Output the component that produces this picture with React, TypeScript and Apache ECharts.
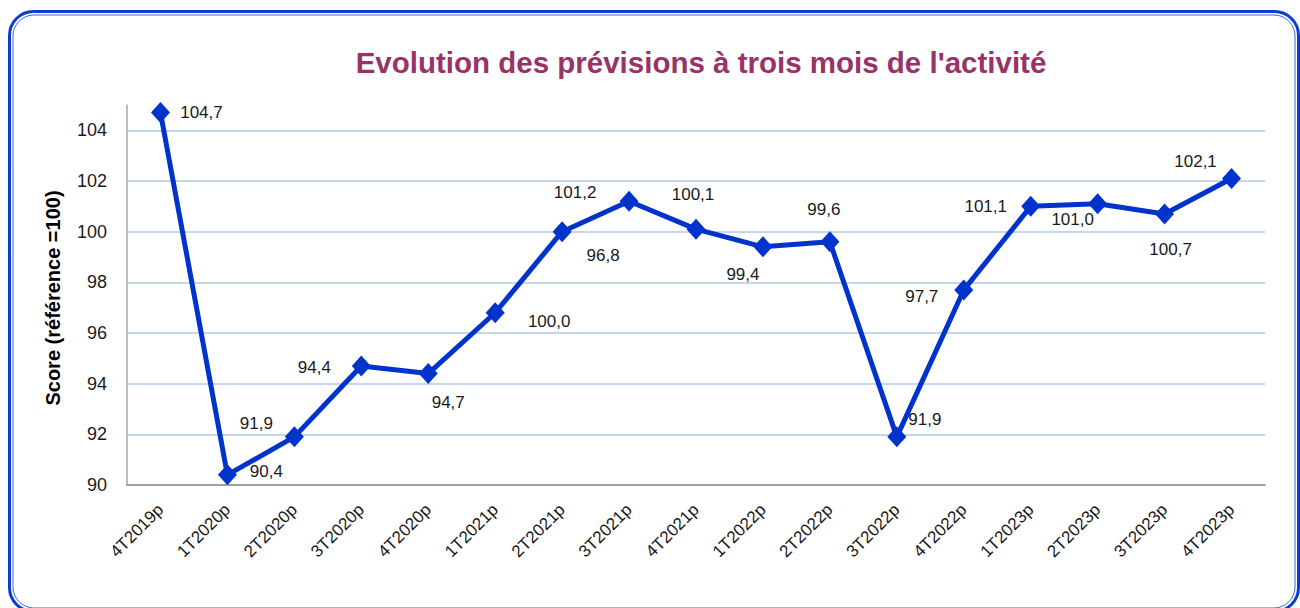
import React, { useEffect, useRef } from "react";
import * as echarts from "echarts";

const categories = [
  "4T2019p", "1T2020p", "2T2020p", "3T2020p", "4T2020p", "1T2021p", "2T2021p", "3T2021p",
  "4T2021p", "1T2022p", "2T2022p", "3T2022p", "4T2022p", "1T2023p", "2T2023p", "3T2023p", "4T2023p",
];
const values = [104.7, 90.4, 91.9, 94.7, 94.4, 96.8, 100.0, 101.2, 100.1, 99.4, 99.6, 91.9, 97.7, 101.0, 101.1, 100.7, 102.1];
// Data label texts as printed next to each point in the reference
const labelTexts = ["104,7", "90,4", "91,9", "94,4", "94,7", "100,0", "96,8", "101,2", "100,1", "99,4", "99,6", "91,9", "97,7", "101,1", "101,0", "100,7", "102,1"];
// Label offsets (px) relative to each point
const labelOffsets: number[][] = [
  [41, 0], [39, -3], [-38, -13], [-47, 2], [20, 29], [54, 9], [41, 24], [-54, -9],
  [-3, -35], [-20, 28], [-6, -32], [28, -17], [-42, 7], [-45, 0], [-25, 16], [6, 36], [-36, -17],
];
const yTicks = { min: 90, max: 105, interval: 2 };
const titleText = "Evolution des prévisions à trois mois de l'activité";
const yName = "Score (référence =100)";

const FONT = "'Liberation Sans', Arial, sans-serif";

export default function App() {
  const ref = useRef<HTMLDivElement>(null);
  useEffect(() => {
    if (!ref.current) return;
    const chart = echarts.init(ref.current, undefined, { renderer: "svg" });
    const gridColors: string[] = [];
    for (let v = yTicks.min; v < yTicks.max; v += yTicks.interval) gridColors.push("#B4C7E7");
    gridColors.push("rgba(0,0,0,0)");
    chart.setOption({
      animation: false,
      backgroundColor: "#ffffff",
      textStyle: { fontFamily: FONT },
      grid: { left: 127, right: 35, top: 105, bottom: 123 },
      xAxis: {
        type: "category",
        data: categories,
        boundaryGap: true,
        axisLine: { show: true, lineStyle: { color: "#A0A0A0", width: 2 } },
        axisTick: { show: false },
        axisLabel: {
          rotate: 45,
          margin: 22,
          fontSize: 17,
          color: "#1a1a1a",
          fontFamily: FONT,
          interval: 0,
        },
        splitLine: { show: false },
      },
      yAxis: {
        type: "value",
        min: yTicks.min,
        max: yTicks.max,
        interval: yTicks.interval,
        axisLine: { show: true, lineStyle: { color: "#A6A6A6", width: 1.5 } },
        axisTick: { show: false },
        axisLabel: {
          fontSize: 18,
          color: "#1a1a1a",
          margin: 20,
          fontFamily: FONT,
          showMaxLabel: false,
        },
        splitLine: { show: true, lineStyle: { color: gridColors, width: 1.5 } },
      },
      series: [
        {
          type: "line",
          z: 10,
          data: values.map((v, i) => ({
            value: v,
            label: {
              show: true,
              position: "inside",
              offset: labelOffsets[i],
              formatter: labelTexts[i],
            },
          })),
          symbol: "diamond",
          symbolSize: [19, 21],
          lineStyle: { color: "#0033CC", width: 5 },
          itemStyle: { color: "#0033CC" },
          label: {
            show: true,
            fontSize: 17,
            color: "#1a1a1a",
            fontFamily: FONT,
            align: "center",
            verticalAlign: "middle",
          },
          clip: false,
        },
      ],
      graphic: [
        {
          type: "rect",
          silent: true,
          shape: { x: 9.5, y: 11.5, width: 1289, height: 600, r: 24 },
          style: { fill: "none", stroke: "#0A3CCF", lineWidth: 3 },
        },
        {
          type: "rect",
          silent: true,
          shape: { x: 13, y: 15, width: 1282, height: 593, r: 21 },
          style: { fill: "none", stroke: "#3C64E0", lineWidth: 1 },
        },
        {
          type: "text",
          x: 701,
          y: 62,
          style: {
            text: titleText,
            fill: "#993366",
            font: `bold 29.5px ${FONT}`,
            align: "center",
            verticalAlign: "middle",
          },
        },
        {
          type: "text",
          x: 53,
          y: 298,
          rotation: Math.PI / 2,
          style: {
            text: yName,
            fill: "#000000",
            font: `bold 20px ${FONT}`,
            align: "center",
            verticalAlign: "middle",
          },
        },
      ],
    });
    return () => chart.dispose();
  }, []);
  return (
    <div
      ref={ref}
      style={{ position: "absolute", left: 0, top: 0, width: 1300, height: 608 }}
    />
  );
}
